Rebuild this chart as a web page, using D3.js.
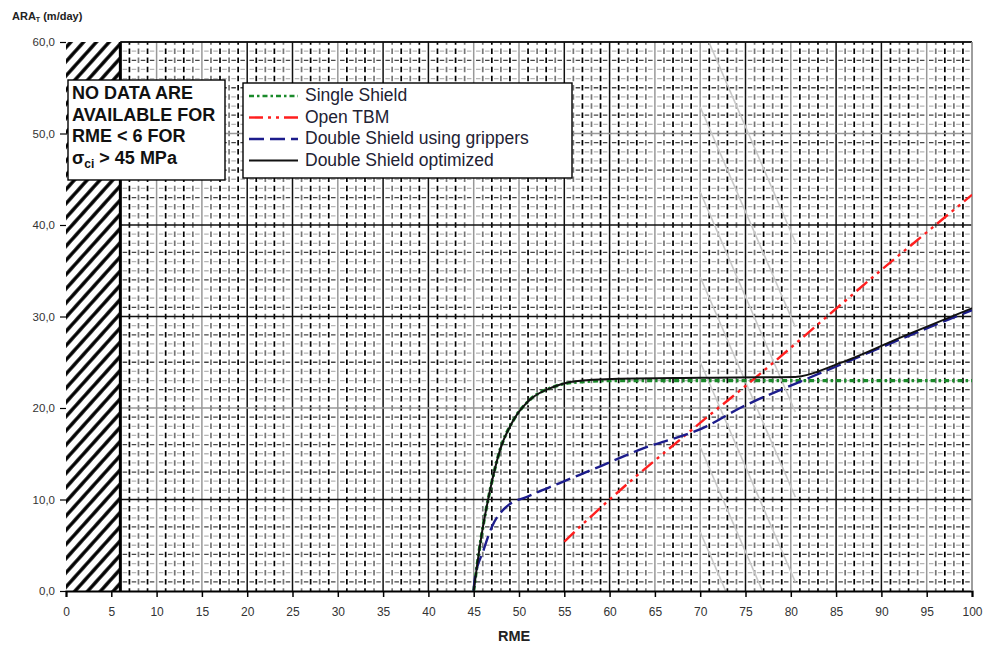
<!DOCTYPE html>
<html>
<head>
<meta charset="utf-8">
<script src="https://cdn.jsdelivr.net/npm/d3@7"></script>
<style>
  body { margin: 0; background: #fff; }
  svg { display: block; font-family: Arial, "Liberation Sans", sans-serif; }
</style>
</head>
<body>
<svg id="chart" width="984" height="645"></svg>
<script>
// values
const xTicks = [0, 5, 10, 15, 20, 25, 30, 35, 40, 45, 50, 55, 60, 65, 70, 75, 80, 85, 90, 95, 100]
const yTicks = [0, 10, 20, 30, 40, 50, 60]
const yTickLabels = ['0,0', '10,0', '20,0', '30,0', '40,0', '50,0', '60,0']

const seriesNames = ['Single Shield', 'Open TBM', 'Double Shield using grippers', 'Double Shield optimized']

const singleShield = [
  [45, 0], [45.4, 3], [45.9, 6.3], [46.8, 11], [47.9, 15.4], [49.4, 18.7], [51.2, 20.9],
  [53.8, 22.3], [56, 22.8], [61, 23.0], [70, 23.0], [85, 23.0], [100, 23.0],
]
const openTbm = [
  [55, 5.4], [59, 9.1], [63, 12.6], [67, 15.9], [71, 19.2], [75, 22.4], [78, 24.9],
  [84, 30.0], [90, 35.1], [95, 39.2], [100, 43.3],
]
const doubleGrippers = [
  [45, 0], [45.1, 1.2], [46.1, 4.5], [47, 7], [48.6, 9.2], [50.9, 10.3], [54.5, 11.8],
  [58.9, 13.6], [63.2, 15.4], [70.7, 18.0], [74.4, 20.0], [80.6, 22.7], [85.4, 24.7],
  [92.8, 27.8], [100, 30.7],
]
const doubleOptimized = [
  [45, 0], [45.4, 3], [45.9, 6.3], [46.8, 11], [47.9, 15.4], [49.4, 18.7], [51.2, 20.9],
  [53.8, 22.3], [56, 22.9], [61, 23.2], [70, 23.3], [80.5, 23.4], [85.4, 24.9],
  [92.8, 28.0], [100, 30.9],
]

const noDataLimit = 6
const noteLines = ['NO DATA ARE', 'AVAILABLE FOR', 'RME < 6 FOR']

const svg = d3.select('#chart')
const x = d3.scaleLinear().domain([0, 100]).range([66, 972])
const y = d3.scaleLinear().domain([0, 60]).range([591, 42])

const defs = svg.append('defs')
defs.append('pattern')
  .attr('id', 'hatch')
  .attr('patternUnits', 'userSpaceOnUse')
  .attr('width', 9.5)
  .attr('height', 9.5)
  .attr('patternTransform', 'rotate(42)')
  .append('line')
  .attr('x1', 4.75).attr('y1', 0)
  .attr('x2', 4.75).attr('y2', 9.5)
  .attr('stroke', '#000')
  .attr('stroke-width', 3.4)

defs.append('clipPath').attr('id', 'plot-clip')
  .append('rect')
  .attr('x', x(0)).attr('y', y(60))
  .attr('width', x(100) - x(0)).attr('height', y(0) - y(60))

const gridG = svg.append('g')

// minor grid: dashed, one line per unit
const minorX = d3.range(noDataLimit + 1, 100).filter((v) => v % 5 !== 0)
const minorY = d3.range(1, 60).filter((v) => v % 10 !== 0)
const stepX = x(1) - x(0)
const stepY = y(0) - y(1)

gridG.selectAll('line.minor-y').data(minorY).join('line')
  .attr('class', 'minor-y')
  .attr('x1', x(noDataLimit)).attr('x2', x(100))
  .attr('y1', (d) => y(d)).attr('y2', (d) => y(d))
  .attr('stroke', (d) => (d % 3 === 1 ? '#444' : '#b5b5b5'))
  .attr('stroke-width', 1.3)
  .attr('stroke-dasharray', `4.5,${stepX - 4.5}`)
  .attr('stroke-dashoffset', -(stepX - 4.5) / 2)

gridG.selectAll('line.minor-x').data(minorX).join('line')
  .attr('class', 'minor-x')
  .attr('x1', (d) => x(d)).attr('x2', (d) => x(d))
  .attr('y1', y(0)).attr('y2', y(60))
  .attr('stroke', (d) => (d % 2 ? '#000' : '#777'))
  .attr('stroke-width', 1.7)
  .attr('stroke-dasharray', `5.5,${stepY - 5.5}`)
  .attr('stroke-dashoffset', 2.75)

// faint diagonal streaks of the scan
const streakStarts = [0, 1, 2, 3, 4, 5, 6]
const streakG = svg.append('g').attr('clip-path', 'url(#plot-clip)')
streakG.selectAll('line').data(streakStarts).join('line')
  .attr('x1', x(70))
  .attr('y1', (d) => y(60) + d * 85 - 20)
  .attr('x2', x(80.5))
  .attr('y2', (d) => y(60) + d * 85 + 200)
  .attr('stroke', '#c8c8c8')
  .attr('stroke-width', 1.6)

// major grid
const majorX = xTicks.filter((v) => v > noDataLimit)
const darkMajorX = [20, 25, 35, 40, 55, 60, 75, 85, 90]
gridG.selectAll('line.major-x').data(majorX).join('line')
  .attr('class', 'major-x')
  .attr('x1', (d) => x(d)).attr('x2', (d) => x(d))
  .attr('y1', y(0)).attr('y2', y(60))
  .attr('stroke', (d) => (darkMajorX.includes(d) ? '#111' : '#999'))
  .attr('stroke-width', 1.5)

const darkMajorY = [10, 30, 40, 60]
gridG.selectAll('line.major-y').data(yTicks.filter((v) => v > 0)).join('line')
  .attr('class', 'major-y')
  .attr('x1', x(noDataLimit)).attr('x2', x(100))
  .attr('y1', (d) => y(d)).attr('y2', (d) => y(d))
  .attr('stroke', (d) => (darkMajorY.includes(d) ? '#111' : '#999'))
  .attr('stroke-width', 1.6)

// no-data hatch
svg.append('rect')
  .attr('x', x(0)).attr('y', y(60))
  .attr('width', x(noDataLimit) - x(0)).attr('height', y(0) - y(60))
  .attr('fill', 'url(#hatch)')
svg.append('line')
  .attr('x1', x(noDataLimit)).attr('x2', x(noDataLimit))
  .attr('y1', y(0)).attr('y2', y(60))
  .attr('stroke', '#000').attr('stroke-width', 3)

// axes
const xAxis = d3.axisBottom(x).tickValues(xTicks).tickSize(6).tickPadding(10)
const xAxisG = svg.append('g').attr('transform', `translate(0,${y(0)})`).call(xAxis)
xAxisG.select('.domain').attr('stroke', '#000').attr('stroke-width', 2)
xAxisG.selectAll('.tick line').attr('stroke', '#000').attr('stroke-width', 1.5)
xAxisG.selectAll('.tick text')
  .attr('font-size', 12).attr('fill', '#333').attr('font-family', 'Arial, "Liberation Sans", sans-serif')

const yAxis = d3.axisLeft(y).tickValues(yTicks).tickSize(6).tickPadding(5)
  .tickFormat((d, i) => yTickLabels[i])
const yAxisG = svg.append('g').attr('transform', `translate(${x(0)},0)`).call(yAxis)
yAxisG.select('.domain').remove()
yAxisG.selectAll('.tick line').attr('stroke', '#000').attr('stroke-width', 1.2)
yAxisG.selectAll('.tick text')
  .attr('font-size', 11.5).attr('fill', '#333').attr('font-family', 'Arial, "Liberation Sans", sans-serif')

// top and right border
svg.append('line')
  .attr('x1', x(noDataLimit)).attr('x2', x(100)).attr('y1', y(60)).attr('y2', y(60))
  .attr('stroke', '#111').attr('stroke-width', 1.6)
svg.append('line')
  .attr('x1', x(100)).attr('x2', x(100)).attr('y1', y(60)).attr('y2', y(0))
  .attr('stroke', '#999').attr('stroke-width', 1.6)

// curves
const line = d3.line().x((d) => x(d[0])).y((d) => y(d[1])).curve(d3.curveMonotoneX)
const seriesStyles = [
  { data: singleShield, color: '#1a8a2a', dash: '5,3,2.5,3', width: 3.2 },
  { data: openTbm, color: '#ff1e1e', dash: '14,5,3,5,3,5', width: 2.4 },
  { data: doubleGrippers, color: '#1c1c8c', dash: '15,6', width: 2.4 },
  { data: doubleOptimized, color: '#111', dash: null, width: 2 },
]
const curveG = svg.append('g').attr('clip-path', 'url(#plot-clip)')
seriesStyles.forEach((s) => {
  curveG.append('path')
    .attr('d', line(s.data))
    .attr('fill', 'none')
    .attr('stroke', s.color)
    .attr('stroke-width', s.width)
    .attr('stroke-dasharray', s.dash)
})

// note box
const noteG = svg.append('g').attr('transform', 'translate(68,80)')
noteG.append('rect')
  .attr('width', 157).attr('height', 100)
  .attr('fill', '#fff').attr('stroke', '#000').attr('stroke-width', 1.4)
noteG.selectAll('text.note').data(noteLines).join('text')
  .attr('class', 'note')
  .attr('x', 4).attr('y', (d, i) => 19 + i * 21.5)
  .attr('font-size', 18).attr('font-weight', 'bold').attr('fill', '#111')
  .text((d) => d)
const sigma = noteG.append('text')
  .attr('x', 4).attr('y', 19 + 3 * 21.5)
  .attr('font-size', 18).attr('font-weight', 'bold').attr('fill', '#111')
sigma.append('tspan').text('σ')
sigma.append('tspan').text('ci').attr('font-size', 12).attr('dy', 4)
sigma.append('tspan').text(' > 45 MPa').attr('dy', -4)

// legend
const legendG = svg.append('g').attr('transform', 'translate(243,83)')
legendG.append('rect')
  .attr('width', 329).attr('height', 95)
  .attr('fill', '#fff').attr('stroke', '#000').attr('stroke-width', 1.4)
const legendRows = legendG.selectAll('g.row').data(seriesStyles).join('g')
  .attr('class', 'row')
  .attr('transform', (d, i) => `translate(0,${13 + i * 21.5})`)
legendRows.append('line')
  .attr('x1', 6).attr('x2', 55)
  .attr('stroke', (d) => d.color)
  .attr('stroke-width', (d) => Math.min(d.width, 2.4))
  .attr('stroke-dasharray', (d) => d.dash)
legendRows.append('text')
  .attr('x', 62).attr('y', 5)
  .attr('font-size', 17.5).attr('fill', '#223')
  .text((d, i) => seriesNames[i])

// axis titles
const yTitle = svg.append('text')
  .attr('x', 12).attr('y', 20)
  .attr('font-size', 11).attr('font-weight', 'bold').attr('fill', '#222')
yTitle.append('tspan').text('ARA')
yTitle.append('tspan').text('T').attr('font-size', 7).attr('dy', 2)
yTitle.append('tspan').text(' (m/day)').attr('dy', -2)

svg.append('text')
  .attr('x', 498).attr('y', 641)
  .attr('font-size', 14.5).attr('font-weight', 'bold').attr('fill', '#222')
  .text('RME')
</script>
</body>
</html>
